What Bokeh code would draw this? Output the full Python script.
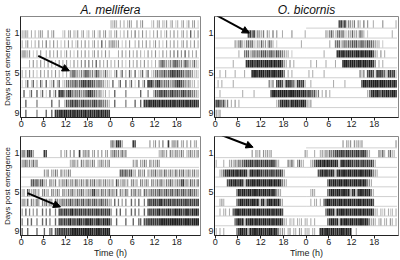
from bokeh.plotting import figure
from bokeh.layouts import row, column
from bokeh.models import Range1d, FixedTicker, Arrow, NormalHead, ColumnDataSource, Title
from bokeh.embed import file_html
from bokeh.resources import INLINE

# ---- data: activity per half-hour bin (0-9), one string (48 bins = 24 h) per day ----
MELLIFERA_TOP = [
    "334303030343" "004034000023" "034032402402" "302402403402",
    "303402030403" "050304030203" "040302403040" "302403060304",
    "454340203040" "030403040302" "403020403040" "302404030403",
    "000030403040" "304030204030" "402040304050" "504060403040",
    "303040302040" "304030403020" "304675435477" "645376433632",
    "203602603062" "060236036023" "565667567887" "877656654232",
    "060026006026" "020602608885" "688656564567" "887654532302",
    "006000005000" "000060005003" "767878767877" "767876765543",
    "006000005000" "060060888989" "989898989898" "898989898988",
]
BICORNIS_TOP = [
    "000000000000" "000007868354" "350430504003" "000040000003",
    "000000000043" "563256563243" "634265302000" "000000000300",
    "000000000000" "300566356565" "767567657665" "433020000000",
    "000000000300" "000089898898" "989989898997" "430403000000",
    "003003000030" "000300089989" "998998998998" "503030000000",
    "030300000300" "000000000000" "000053507887" "288876288783",
    "003000000000" "003000003000" "000007998999" "998999899898",
    "787673503040" "300000000000" "000000003589" "898798998998",
    "434000000000" "000000000000" "000000000000" "000000000000",
]
MELLIFERA_BOTTOM = [
    "563887400000" "870000000403" "404050080454" "503404040340",
    "456453645000" "000000000000" "003453405435" "435403453435",
    "000000000000" "435043540534" "354000000000" "000000000000",
    "000006767567" "340543504354" "634536435436" "354634534534",
    "340743453404" "534054354054" "354643546534" "547845364536",
    "453605436405" "463540654565" "657656756756" "756765675654",
    "406050405006" "050600507878" "878978788787" "878788787878",
    "500606005006" "060500607878" "789787898789" "898789879898",
    "600600006000" "600660778888" "888999999999" "999899989999",
]
BICORNIS_BOTTOM = [
    "000000000000" "000000040434" "043434000000" "000000000004",
    "300030034354" "656787887887" "878878874300" "005463046330",
    "003468898989" "898982898898" "878878878786" "300000000000",
    "000000789898" "898289899899" "899899898985" "430000000000",
    "000000000006" "989989989989" "899898985430" "000000000000",
    "003430000006" "899899899893" "893899898953" "000000000000",
    "003033030689" "989989989899" "898998989897" "000000000000",
    "000000000068" "989298998989" "899898989897" "330323032303",
    "303030000006" "899893989989" "989899898534" "303403304303",
    "330330089899" "899898998989" "003000000000" "000000000000",
]

X_TICKS = [0, 6, 12, 18, 24, 30, 36, 42]
X_LABELS = ["0", "6", "12", "18", "0", "6", "12", "18"]
Y_TICKS = [1.5, 5.5, 9.5]
Y_LABELS = ["1", "5", "9"]
Y_TITLE = "Days post emergence"

# arrows: (hour start, row start, hour end, row end)
ARROW_MT = (4.6, 3.8, 13.0, 5.3)
ARROW_BT = (0.5, -0.25, 9.0, 1.5)
ARROW_MB = (1.7, 5.65, 10.6, 7.06)
ARROW_BB = (1.8, -0.3, 10.0, 0.93)

FONT = "Liberation Sans"
N_ROWS = 10


def gray(level):
    g = int(round(238 - level * 23))
    return "#%02x%02x%02x" % (g, g, g)


def panel(days, arrow, width, height, mleft, mright, mtop, mbottom,
          title=None, ylabel=None, xlabel=None):
    p = figure(width=width, height=height, output_backend="svg",
               toolbar_location=None,
               x_range=Range1d(-0.2, 48.4), y_range=Range1d(N_ROWS, -0.17),
               min_border_left=mleft, min_border_right=mright,
               min_border_top=mtop, min_border_bottom=mbottom)
    if title:
        p.title.text = title
        p.title.text_font = FONT
        p.title.text_font_style = "italic"
        p.title.text_font_size = "12px"
        p.title.align = "center"
        p.title.standoff = 0
        p.title.offset = 0
        p.title.text_color = "#111"
    p.background_fill_color = "white"
    p.border_fill_color = "white"
    p.outline_line_color = "#888"
    p.xgrid.visible = False
    p.ygrid.visible = False

    lefts, rights, tops, bottoms, colors = [], [], [], [], []
    bx0, bx1, by = [], [], []
    for r in range(N_ROWS):
        for half in (0, 1):
            d = r + half  # day number shown in this half-row
            if d < 1 or d > len(days):
                continue
            s = days[d - 1]
            off = 24 * half
            bx0.append(off)
            bx1.append(off + 24)
            by.append(r + 1)
            for i, ch in enumerate(s):
                lv = int(ch)
                if lv == 0:
                    continue
                w = 0.16 + 0.035 * lv
                c = off + i * 0.5 + 0.25
                lefts.append(c - w / 2)
                rights.append(c + w / 2)
                tops.append(r + 0.22)
                bottoms.append(r + 0.97)
                colors.append(gray(lv))
    p.segment(x0=bx0, y0=by, x1=bx1, y1=by, line_color="#c4c4c4", line_width=0.8)
    src = ColumnDataSource(dict(left=lefts, right=rights, top=tops, bottom=bottoms, color=colors))
    p.quad(left="left", right="right", top="top", bottom="bottom", fill_color="color",
           line_color=None, source=src)

    xs, ys, xe, ye = arrow
    p.add_layout(Arrow(end=NormalHead(size=7, fill_color="black", line_color="black"),
                       x_start=xs, y_start=ys, x_end=xe, y_end=ye,
                       line_color="black", line_width=2))

    p.xaxis.ticker = FixedTicker(ticks=X_TICKS)
    p.xaxis.major_label_overrides = {t: l for t, l in zip(X_TICKS, X_LABELS)}
    p.yaxis.ticker = FixedTicker(ticks=Y_TICKS)
    p.yaxis.major_label_overrides = {t: l for t, l in zip(Y_TICKS, Y_LABELS)}
    for ax in (p.xaxis, p.yaxis):
        ax.axis_line_color = "#222"
        ax.major_tick_line_color = "#222"
        ax.minor_tick_line_color = None
        ax.major_label_text_font = FONT
        ax.major_label_text_color = "#222"
        ax.axis_label_text_font = FONT
        ax.axis_label_text_font_style = "normal"
        ax.axis_label_text_color = "#222"
    p.xaxis.major_tick_out = 3
    p.xaxis.major_tick_in = 0
    p.xaxis.major_label_standoff = 0
    p.xaxis.major_label_text_font_size = "9px"
    p.yaxis.major_tick_out = 0
    p.yaxis.major_tick_in = 0
    p.yaxis.major_label_standoff = 1
    p.yaxis.major_label_text_font_size = "9px"
    if ylabel:
        p.add_layout(Title(text=ylabel, align="center", text_font=FONT,
                           text_font_size="8px", text_font_style="normal",
                           text_line_height=1.0,
                           text_color="#222", standoff=0, offset=0), "left")
    if xlabel:
        p.xaxis.axis_label = xlabel
        p.xaxis.axis_label_text_font_size = "9px"
        p.xaxis.axis_label_standoff = 0
    return p


p1 = panel(MELLIFERA_TOP, ARROW_MT, 201, 130, 16, 1, 15, 13,
           title="A. mellifera", ylabel=Y_TITLE)
p2 = panel(BICORNIS_TOP, ARROW_BT, 199, 130, 13, 2, 15, 13, title="O. bicornis")
p3 = panel(MELLIFERA_BOTTOM, ARROW_MB, 201, 130, 16, 1, 6, 23,
           ylabel=Y_TITLE, xlabel="Time (h)")
p4 = panel(BICORNIS_BOTTOM, ARROW_BB, 199, 130, 13, 2, 6, 23, xlabel="Time (h)")

layout = row(column(p1, p3), column(p2, p4))
open("out.html", "w").write(file_html(layout, INLINE))
